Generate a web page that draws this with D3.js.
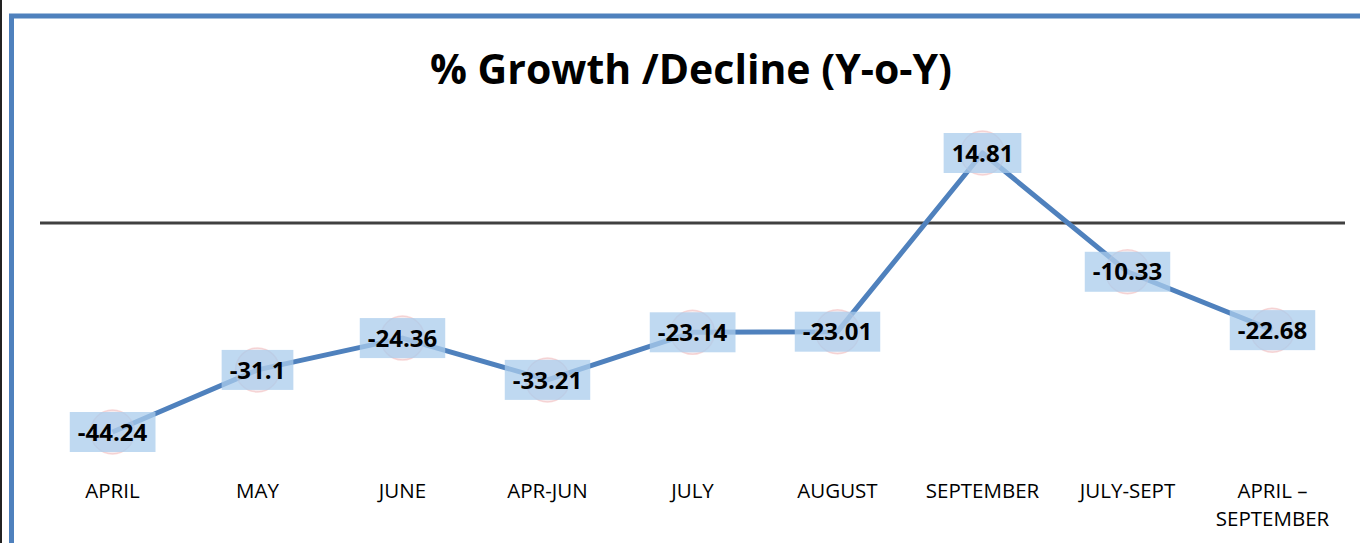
<!DOCTYPE html>
<meta charset="utf-8">
<style>
body {
  margin: 0;
  background: #fff;
  font-family: "Open Sans", Lato, sans-serif;
}
.title {
  font-size: 41px;
  font-weight: 700;
  fill: #000;
}
.catlabel {
  font-size: 20.5px;
  fill: #000;
}
.vallabel {
  font-size: 24px;
  font-weight: 700;
  fill: #000;
}
</style>
<body>
<div id="chart"></div>
<script src="https://d3js.org/d3.v7.min.js"></script>
<script>
// data
var categories = ["APRIL", "MAY", "JUNE", "APR-JUN", "JULY", "AUGUST", "SEPTEMBER", "JULY-SEPT", "APRIL \u2013|SEPTEMBER"];
var growth = [-44.24, -31.1, -24.36, -33.21, -23.14, -23.01, 14.81, -10.33, -22.68];
var labels = ["-44.24", "-31.1", "-24.36", "-33.21", "-23.14", "-23.01", "14.81", "-10.33", "-22.68"];

var W = 1360, H = 543;

var svg = d3.select("#chart").append("svg")
    .attr("width", W)
    .attr("height", H);

// frame
svg.append("rect")
    .attr("x", 0).attr("y", 0).attr("width", 2).attr("height", H)
    .attr("fill", "#222");
svg.append("rect")
    .attr("x", 11.5).attr("y", 16)
    .attr("width", W + 20).attr("height", H + 20)
    .attr("fill", "none")
    .attr("stroke", "#4f81bd")
    .attr("stroke-width", 5);

svg.append("text")
    .attr("class", "title")
    .attr("x", 691)
    .attr("y", 84)
    .attr("text-anchor", "middle")
    .text("% Growth /Decline (Y-o-Y)");

var x = d3.scaleBand().domain(categories).range([40, 1345]);
var y = d3.scaleLinear().domain([-44.24, 14.81]).range([432, 153]);

var cx = function(d, i) { return x(categories[i]) + x.bandwidth() / 2; };

// zero line
svg.append("line")
    .attr("x1", 40).attr("x2", 1345)
    .attr("y1", y(0)).attr("y2", y(0))
    .attr("stroke", "#404040")
    .attr("stroke-width", 3);

// category labels
var cat = svg.selectAll(".catlabel")
    .data(categories)
  .enter().append("text")
    .attr("class", "catlabel")
    .attr("text-anchor", "middle")
    .attr("x", function(d) { return x(d) + x.bandwidth() / 2; })
    .attr("y", 498);
cat.selectAll("tspan")
    .data(function(d) { return d.split("|"); })
  .enter().append("tspan")
    .attr("x", function() { var p = this.parentNode; return p.getAttribute("x"); })
    .attr("dy", function(d, i) { return i ? 28 : 0; })
    .text(function(d) { return d; });

// the line
var line = d3.line()
    .x(function(d, i) { return cx(d, i); })
    .y(function(d) { return y(d); });
svg.append("path")
    .datum(growth)
    .attr("d", line)
    .attr("fill", "none")
    .attr("stroke", "#4f81bd")
    .attr("stroke-width", 5)
    .attr("stroke-linejoin", "round");

// markers
svg.selectAll(".marker")
    .data(growth)
  .enter().append("circle")
    .attr("class", "marker")
    .attr("cx", cx)
    .attr("cy", function(d) { return y(d); })
    .attr("r", 22)
    .attr("fill", "rgba(230,200,210,0.35)")
    .attr("stroke", "rgba(240,170,170,0.45)")
    .attr("stroke-width", 1.5);

// value labels
var g = svg.selectAll(".val")
    .data(growth)
  .enter().append("g")
    .attr("class", "val")
    .attr("transform", function(d, i) { return "translate(" + cx(d, i) + "," + y(d) + ")"; });
g.append("text")
    .attr("class", "vallabel")
    .attr("text-anchor", "middle")
    .attr("dy", "0.36em")
    .text(function(d, i) { return labels[i]; });
g.each(function() {
  var t = d3.select(this).select("text");
  var b = t.node().getBBox();
  d3.select(this).insert("rect", "text")
    .attr("x", b.x - 8)
    .attr("y", -20)
    .attr("width", b.width + 16)
    .attr("height", 40)
    .attr("fill", "rgba(170,204,236,0.75)");
});
</script>
</body>
